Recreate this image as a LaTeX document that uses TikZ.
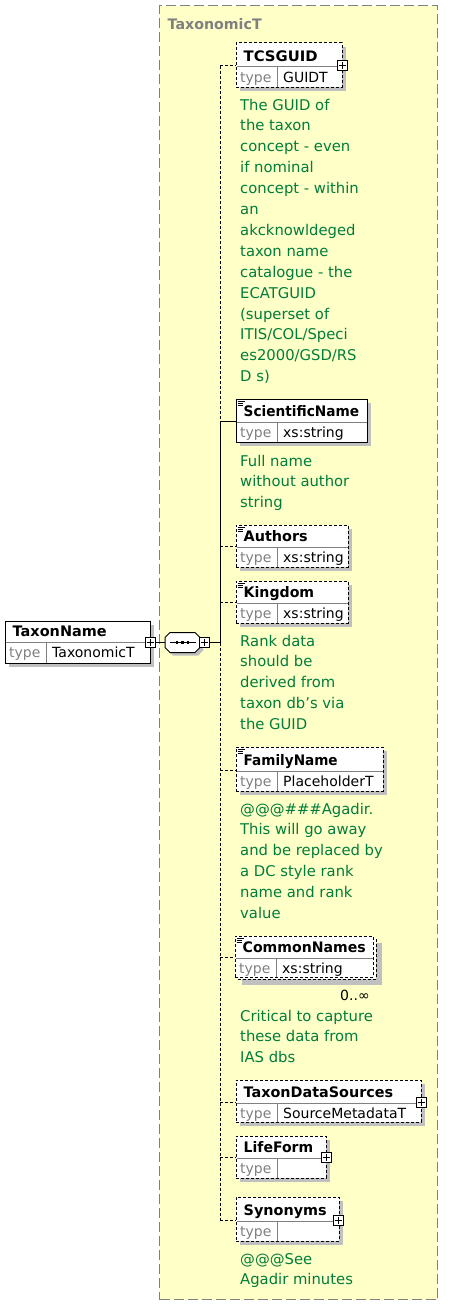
\documentclass[tikz,border=0pt]{standalone}
\usepackage{graphicx}
\usepackage{fontspec}
\setmainfont{DejaVu Sans}[BoldFont={DejaVu Sans Bold}]
\definecolor{yellowbg}{RGB}{255,255,200}
\definecolor{framegray}{RGB}{128,128,128}
\definecolor{shadowgray}{RGB}{192,192,192}
\definecolor{docgreen}{RGB}{0,125,60}
\definecolor{typegray}{RGB}{128,128,128}
\newcommand{\lblw}[2]{\resizebox{#1pt}{\height}{#2}}
\newcommand{\xsdShadow}[4]{\fill[shadowgray] (#1+4,#2+4) rectangle (#3+4,#4+4);}
\newcommand{\xsdElem}[9]{%
  \node[draw, line width=1, #9, fill=white, anchor=north west, inner sep=0, outer sep=0,
        minimum width=#4-#2, minimum height=#5-#3] (#1) at (#2,#3) {};
  \draw[divline] (#2+0.5,#6) -- (#4-0.5,#6);
  \draw[divline] (#2+41,#6) -- (#2+41,#5-0.5);
  \node[lbl] (#1-name) at (#2+7.5,#6-5.5) {#7};
  \node[typ] (#1-typ) at (#2+4,#6+15.5) {type};
  \node[val] (#1-val) at (#2+47,#6+15.5) {#8};
}
\newcommand{\xsdPlus}[3]{%
  \node[plusbox] (#1) at (#2,#3) {};
  \draw[line width=0.8] (#2-3.5,#3) -- (#2+3.5,#3) (#2,#3-3.5) -- (#2,#3+3.5);
}
\newcommand{\xsdIcon}[2]{%
  \draw[line width=0.7] (#1+1.5,#2+2.5) -- ++(7,0) (#1+1.5,#2+4.5) -- ++(5.5,0) (#1+1.5,#2+6.5) -- ++(5.5,0);
}
\begin{document}
\begin{tikzpicture}[x=1pt,y=-1pt,
  lbl/.style={font=\fontsize{14.5}{16}\selectfont\bfseries, inner sep=0, anchor=base west},
  typ/.style={text=typegray, font=\fontsize{14}{16}\selectfont, inner sep=0, anchor=base west},
  val/.style={text=black, font=\fontsize{14}{16}\selectfont, inner sep=0, anchor=base west},
  doc/.style={text=docgreen, font=\fontsize{14.8}{20.9}\selectfont, align=left, inner sep=0, anchor=base west},
  divline/.style={draw=framegray, line width=1},
  elemdash/.style={dash pattern=on 3pt off 2pt},
  conn/.style={line width=1},
  plusbox/.style={draw, fill=white, minimum size=10, inner sep=0, line width=0.8}]
\useasboundingbox (0,0) rectangle (455,1306);

% complex type frame
\node[draw=framegray, line width=1.3, dash pattern=on 10pt off 4pt, fill=yellowbg,
      anchor=north west, inner sep=0, minimum width=278, minimum height=1294] (ctype) at (159,5) {};
\node[text=framegray, font=\fontsize{14.5}{16}\selectfont\bfseries, inner sep=0, anchor=base west] (ctlabel) at (167.5,29.5) {\lblw{94}{TaxonomicT}};

% shadows
\xsdShadow{5}{621}{150}{663}
\xsdShadow{236}{43}{342}{87}
\xsdShadow{236}{399}{367}{442}
\xsdShadow{236}{525}{348}{567}
\xsdShadow{236}{581}{348}{623}
\xsdShadow{236}{747}{383}{791}
\xsdShadow{238}{939}{378}{981}
\xsdShadow{236}{1080}{421}{1122}
\xsdShadow{236}{1136}{326}{1178}
\xsdShadow{236}{1197}{339}{1241}
\fill[shadowgray] (173,635.5) -- (198,635.5) -- (203,640.5) -- (203,650.5) -- (198,655.5) -- (173,655.5) -- (168,650.5) -- (168,640.5) -- cycle;

% spine and connectors
\coordinate (spT) at (220,66);
\coordinate (spS) at (220,421);
\coordinate (spA) at (220,546);
\coordinate (spK) at (220,602);
\coordinate (spM) at (220,642.5);
\coordinate (spF) at (220,770);
\coordinate (spC) at (220,957);
\coordinate (spD) at (220,1102);
\coordinate (spL) at (220,1157);
\coordinate (spB) at (220,1220);
\draw[conn, elemdash] (spT) -- (spS);
\draw[conn] (spS) -- (spM);
\draw[conn, elemdash] (spM) -- (spB);

% root element
\xsdElem{tn}{5}{621}{150}{663}{642}{\lblw{94}{TaxonName}}{TaxonomicT}{solid}
\xsdPlus{tnplus}{150}{642.5}

% sequence compositor
\node[inner sep=0, minimum width=35, minimum height=20] (seq) at (182.5,642.5) {};
\draw[line width=1, fill=white] (170,632.5) -- (195,632.5) -- (200,637.5) -- (200,647.5) -- (195,652.5) -- (170,652.5) -- (165,647.5) -- (165,637.5) -- cycle;
\draw[line width=1] (170,642.5) -- (196,642.5);
\foreach \dx in {177,182.5,188} \fill (\dx-1.4,641.1) rectangle (\dx+1.4,643.9);
\xsdPlus{seqplus}{204}{642.5}
\draw[conn] (tnplus.east) -- (seq.west);
\draw[conn] (seqplus.east) -- (spM);

% children
\xsdElem{tcs}{236}{43}{342}{87}{67}{\lblw{74}{TCSGUID}}{GUIDT}{elemdash}
\xsdPlus{tcsplus}{342}{65.5}
\draw[conn, elemdash] (spT) -- (tcs.west |- spT);
\node[doc] (tcs-doc) at (240,381.7) {The GUID of\\the taxon\\concept - even\\if nominal\\concept - within\\an\\akcknowldeged\\taxon name\\catalogue - the\\ECATGUID\\(superset of\\ITIS/COL/Speci\\es2000/GSD/RS\\D s)};

\xsdElem{sci}{236}{399}{367}{442}{422}{\lblw{115.5}{ScientificName}}{xs:string}{solid}
\xsdIcon{236}{399}
\draw[conn] (spS) -- (sci.west |- spS);
\node[doc] (sci-doc) at (240,507.8) {Full name\\without author\\string};

\xsdElem{auth}{236}{525}{348}{567}{547}{\lblw{64}{Authors}}{xs:string}{elemdash}
\xsdIcon{236}{525}
\draw[conn, elemdash] (spA) -- (auth.west |- spA);

\xsdElem{king}{236}{581}{348}{623}{603}{\lblw{70.5}{Kingdom}}{xs:string}{elemdash}
\xsdIcon{236}{581}
\draw[conn, elemdash] (spK) -- (king.west |- spK);
\node[doc] (king-doc) at (240,729.6) {Rank data\\should be\\derived from\\taxon db's via\\the GUID};

\xsdElem{fam}{236}{747}{383}{791}{771}{\lblw{94}{FamilyName}}{PlaceholderT}{elemdash}
\xsdIcon{236}{747}
\draw[conn, elemdash] (spF) -- (fam.west |- spF);
\node[doc] (fam-doc) at (240,918.5) {@@@\#\#\#Agadir.\\This will go away\\and be replaced by\\a DC style rank\\name and rank\\value};

\draw[line width=1, elemdash, fill=white] (238,939) rectangle (376,979);
\xsdElem{com}{235}{936}{373}{977}{958}{\lblw{123}{CommonNames}}{xs:string}{elemdash}
\xsdIcon{235}{936}
\draw[conn, elemdash] (spC) -- (com.west |- spC);
\node[val] (com-occ) at (340,1000) {0..∞};
\node[doc] (com-doc) at (240,1062.8) {Critical to capture\\these data from\\IAS dbs};

\xsdElem{tds}{236}{1080}{421}{1122}{1103}{\lblw{149.5}{TaxonDataSources}}{SourceMetadataT}{elemdash}
\xsdPlus{tdsplus}{421}{1102}
\draw[conn, elemdash] (spD) -- (tds.west |- spD);

\xsdElem{life}{236}{1136}{326}{1178}{1158}{\lblw{69.5}{LifeForm}}{}{elemdash}
\xsdPlus{lifeplus}{326}{1157.5}
\draw[conn, elemdash] (spL) -- (life.west |- spL);

\xsdElem{syn}{236}{1197}{339}{1241}{1221}{\lblw{83}{Synonyms}}{}{elemdash}
\xsdPlus{synplus}{338}{1220}
\draw[conn, elemdash] (spB) -- (syn.west |- spB);
\node[doc] (syn-doc) at (240,1284.9) {@@@See\\Agadir minutes};
\end{tikzpicture}
\end{document}
